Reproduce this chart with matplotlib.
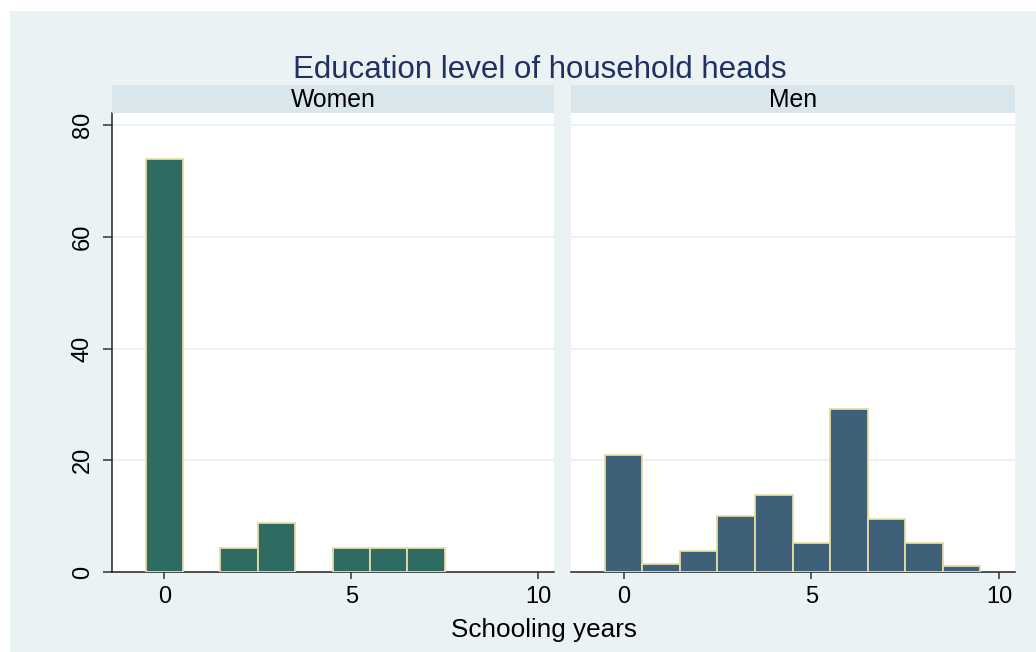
import matplotlib.pyplot as plt
from matplotlib.patches import Rectangle

# Percent of household heads by schooling years
women_years = [0, 2, 3, 5, 6, 7]
women_pct = [73.9, 4.35, 8.7, 4.35, 4.35, 4.35]

men_years = [0, 1, 2, 3, 4, 5, 6, 7, 8, 9]
men_pct = [21.0, 1.4, 3.8, 10.0, 13.8, 5.2, 29.1, 9.5, 5.2, 1.0]

panel_titles = ["Women", "Men"]
bar_colors = ["#2e6b62", "#3e6079"]
x_ticks = [0, 5, 10]
y_ticks = [0, 20, 40, 60, 80]

plt.rcParams["font.family"] = ["Liberation Sans", "DejaVu Sans"]

bg = "#eaf2f3"
strip_bg = "#d9e6ec"
edge = "#e6dca2"

fig = plt.figure(figsize=(10.36, 6.52), dpi=100, facecolor="white")
# light background panel with a thin white margin on the top/left
fig.patches.append(Rectangle((10 / 1036, 0), 1 - 10 / 1036, 1 - 11 / 652,
                             transform=fig.transFigure, facecolor=bg,
                             edgecolor="none", zorder=-10))

bottom = 1 - 572 / 652
top = 1 - 113 / 652
strip_top = 1 - 85 / 652
lefts = [112 / 1036, 571 / 1036]
widths = [(554 - 112) / 1036, (1015 - 571) / 1036]

data = [(women_years, women_pct), (men_years, men_pct)]

for i, (years, pct) in enumerate(data):
    ax = fig.add_axes([lefts[i], bottom, widths[i], top - bottom])
    ax.set_facecolor("white")
    ax.bar(years, pct, width=1.0, color=bar_colors[i], edgecolor=edge,
           linewidth=1.3, zorder=3)
    ax.set_xlim(-1.4, 10.42)
    ax.set_ylim(0, 82.15)
    for y in y_ticks[1:]:
        ax.axhline(y, color=bg, linewidth=1.5, zorder=1)
    ax.set_xticks(x_ticks)
    ax.tick_params(axis="x", length=5.3, width=1.1, color="#333333",
                   labelsize=17, pad=5)
    for s in ["top", "right"]:
        ax.spines[s].set_visible(False)
    ax.spines["bottom"].set_color("#222222")
    ax.spines["bottom"].set_linewidth(1.1)
    if i == 0:
        ax.set_yticks(y_ticks)
        ax.set_yticklabels([str(v) for v in y_ticks], rotation=90, va="center")
        ax.tick_params(axis="y", length=6.2, width=1.1, color="#333333",
                       labelsize=17, pad=7)
        ax.spines["left"].set_color("#222222")
        ax.spines["left"].set_linewidth(1.1)
    else:
        ax.set_yticks([])
        ax.spines["left"].set_visible(False)

    # facet strip
    sax = fig.add_axes([lefts[i], top, widths[i], strip_top - top])
    sax.set_facecolor(strip_bg)
    sax.set_xticks([])
    sax.set_yticks([])
    for s in sax.spines.values():
        s.set_visible(False)
    sax.text(0.5, 0.46, panel_titles[i], ha="center", va="center",
             fontsize=17.8, transform=sax.transAxes)

fig.text(540 / 1036, 1 - 78 / 652, "Education level of household heads",
         ha="center", va="baseline", fontsize=22.5, color="#1e3161")
fig.text(544 / 1036, 1 - 637 / 652, "Schooling years", ha="center",
         va="baseline", fontsize=18.8)

fig.savefig("out.png", dpi=100, facecolor=fig.get_facecolor())
